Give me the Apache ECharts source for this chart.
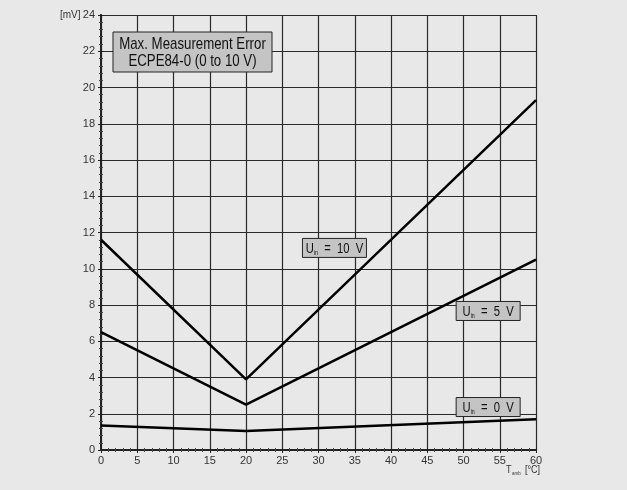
<!DOCTYPE html>
<html>
<head>
<meta charset="utf-8">
<script src="https://cdn.jsdelivr.net/npm/echarts@6/dist/echarts.min.js"></script>
<style>
  html, body { margin: 0; padding: 0; background: #e8e8e8; }
  #chart { width: 627px; height: 490px; }
</style>
</head>
<body>
<div id="chart"></div>
<script>
// temperature points [°C]
var temps = [0, 20, 60];
// max. measurement error [mV] per input voltage
var err10V = [11.6, 3.9, 19.3];
var err5V = [6.5, 2.5, 10.5];
var err0V = [1.35, 1.05, 1.7];
var seriesVolts = [10, 5, 0];
// label box centres [x, y] in data units
var labelPos = [[32.2, 11.15], [53.4, 7.67], [53.4, 2.37]];

var font = 'Arial, "Liberation Sans", sans-serif';
var narrow = 0.78;

function pairs(ys) {
  return temps.map(function (t, i) { return [t, ys[i]]; });
}

var chart = echarts.init(document.getElementById('chart'));
var lineStyle = { color: '#000', width: 2.5 };

function axisX(pos, labels) {
  return {
    type: 'value', position: pos, min: 0, max: 60, interval: 5,
    axisLine: { lineStyle: { color: '#222', width: 2 } },
    axisTick: { inside: true, length: 3, lineStyle: { color: '#222' } },
    minorTick: { show: true, splitNumber: 5, length: 2, lineStyle: { color: '#444' } },
    axisLabel: { show: labels, color: '#333', fontFamily: font, fontSize: 11, margin: 5 },
    splitLine: { show: labels, lineStyle: { color: '#2a2a2a', width: 1.2 } }
  };
}
function axisY(pos, labels) {
  return {
    type: 'value', position: pos, min: 0, max: 24, interval: 2,
    axisLine: { show: true, lineStyle: { color: '#222', width: 2 } },
    axisTick: { show: true, inside: true, length: 3, lineStyle: { color: '#222' } },
    minorTick: { show: true, splitNumber: 5, length: 2, lineStyle: { color: '#444' } },
    axisLabel: { show: labels, color: '#333', fontFamily: font, fontSize: 11, margin: 6 },
    splitLine: { show: labels, lineStyle: { color: '#2a2a2a', width: 1.2 } }
  };
}

var option = {
  backgroundColor: '#e8e8e8',
  animation: false,
  grid: { left: 101, top: 15, width: 435, height: 435 },
  xAxis: [axisX('bottom', true), axisX('top', false)],
  yAxis: [axisY('left', true), axisY('right', false)],
  series: [
    { name: 'U_in = 10 V', type: 'line', data: pairs(err10V), symbol: 'none', lineStyle: lineStyle, z: 5 },
    { name: 'U_in = 5 V', type: 'line', data: pairs(err5V), symbol: 'none', lineStyle: lineStyle, z: 5 },
    { name: 'U_in = 0 V', type: 'line', data: pairs(err0V), symbol: 'none', lineStyle: lineStyle, z: 5 }
  ]
};
chart.setOption(option);

// boxed labels, placed through the grid's scales
function voltBox(pos, volts) {
  var c = chart.convertToPixel({ gridIndex: 0 }, pos);
  var w = 64, h = 19;
  return {
    type: 'group', x: c[0] - w / 2, y: c[1] - h / 2, z: 10,
    children: [
      { type: 'rect', shape: { x: 0, y: 0, width: w, height: h },
        style: { fill: '#c4c4c4', stroke: '#222', lineWidth: 1 } },
      { type: 'text', x: w / 2, y: h / 2 + 1, scaleX: 0.75,
        style: {
          text: '{u|U}{s|in}{t|  =  ' + volts + '  V}',
          align: 'center', verticalAlign: 'middle',
          rich: {
            u: { fontFamily: font, fontSize: 15, fill: '#111' },
            s: { fontFamily: font, fontSize: 7, fill: '#111', verticalAlign: 'bottom' },
            t: { fontFamily: font, fontSize: 15, fill: '#111' }
          }
        } }
    ]
  };
}

var axisText = { fontFamily: font, fill: '#333' };
var graphics = [
  { type: 'text', left: 60, top: 10,
    style: Object.assign({ text: '[mV]', fontSize: 10 }, axisText) },
  { type: 'text', x: 506, y: 465, scaleX: 0.9,
    style: Object.assign({ text: 'T', fontSize: 10 }, axisText) },
  { type: 'text', x: 512, y: 471, scaleX: 0.9,
    style: Object.assign({ text: 'amb', fontSize: 5 }, axisText) },
  { type: 'text', x: 525, y: 465, scaleX: 0.9,
    style: Object.assign({ text: '[°C]', fontSize: 10 }, axisText) },
  { type: 'group', x: 113, y: 32, z: 10,
    children: [
      { type: 'rect', shape: { x: 0, y: 0, width: 159, height: 40 },
        style: { fill: '#c4c4c4', stroke: '#222', lineWidth: 1 } },
      { type: 'text', x: 79.5, y: 21, scaleX: narrow,
        style: {
          text: 'Max. Measurement Error\nECPE84-0 (0 to 10 V)',
          fontFamily: font, fontSize: 17, lineHeight: 17, fill: '#111',
          align: 'center', verticalAlign: 'middle'
        } }
    ] }
];
for (var i = 0; i < seriesVolts.length; i++) {
  graphics.push(voltBox(labelPos[i], seriesVolts[i]));
}
chart.setOption({ graphic: graphics });
</script>
</body>
</html>
